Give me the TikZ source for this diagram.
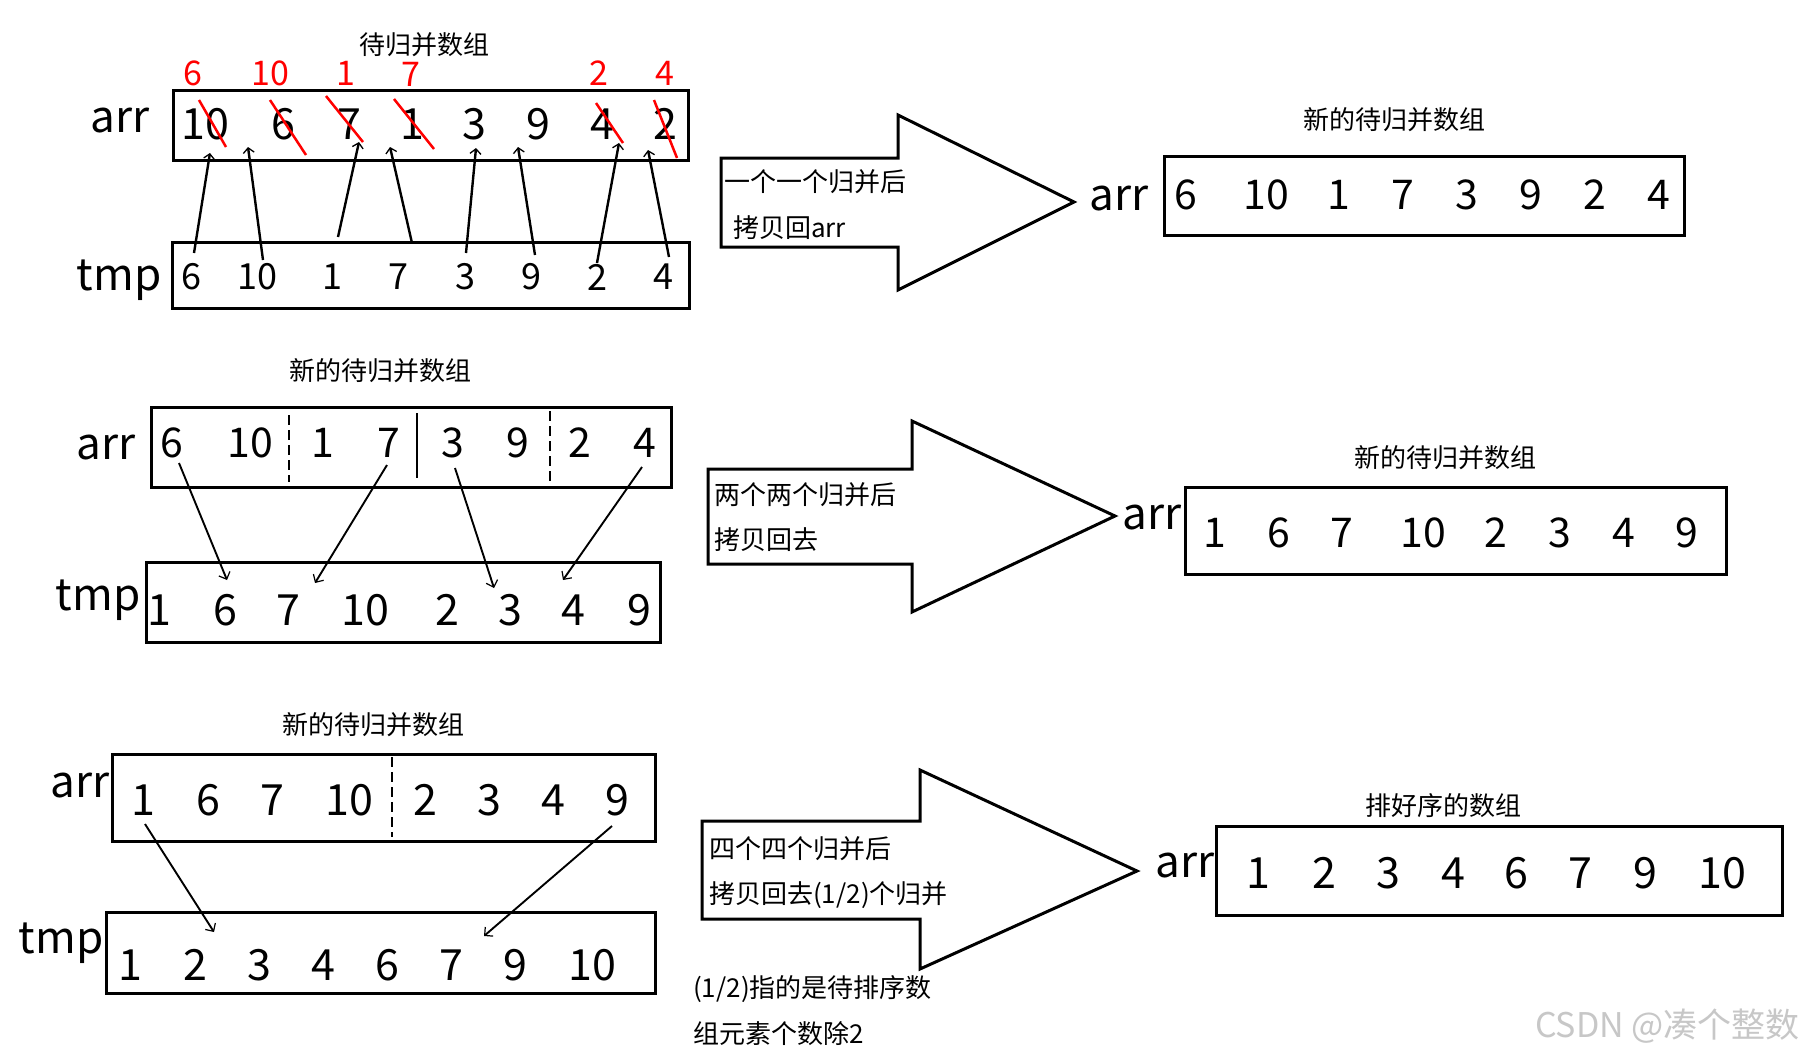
\documentclass[tikz,border=0pt]{standalone}
\usepackage{fontspec}
\setmainfont{Noto Sans CJK SC}
\usetikzlibrary{arrows.meta}
\begin{document}
\begin{tikzpicture}[x=1pt,y=-1pt,
  lbl/.style={inner sep=0pt,font=\fontsize{44}{50}\selectfont},
  dbig/.style={inner sep=0pt,font=\fontsize{43}{48}\selectfont},
  dmid/.style={inner sep=0pt,font=\fontsize{41}{46}\selectfont},
  dsmall/.style={inner sep=0pt,font=\fontsize{36}{40}\selectfont},
  rednum/.style={inner sep=0pt,text=red,font=\fontsize{34}{38}\selectfont},
  title/.style={inner sep=0pt,font=\fontsize{26}{30}\selectfont},
  note/.style={inner sep=0pt,anchor=west,font=\fontsize{26}{30}\selectfont},
  box/.style={draw,line width=3pt},
  bigarrow/.style={draw,line width=3pt,line join=miter},
  sep/.style={line width=2.5pt,dash pattern=on 10pt off 5pt},
  strike/.style={red,line width=2.5pt},
  conn/.style={line width=2.4pt,-{Straight Barb[length=5pt,width=11pt,line width=1.3pt]}},
  conn2/.style={line width=1.9pt,-{Straight Barb[length=6pt,width=12pt,line width=1.2pt]}}]
\useasboundingbox (0,0) rectangle (1804,1058);
\fill[white] (0,0) rectangle (1804,1058);

% ---------------- Row 1 ----------------
\node[title] (c1) at (424,45) {待归并数组};
\foreach \t/\x/\y [count=\i] in {6/193/73,10/270/73,1/346/73,7/411/74,2/599/73,4/665/73}
  \node[rednum] (red\i) at (\x,\y) {\t};
\node[lbl] (arr1) at (120,121) {arr};
\node[box,minimum width=515pt,minimum height=70pt,inner sep=0pt] (box1a) at (430.5,125) {};
\foreach \t/\x [count=\i] in {10/205,6/283,7/349,1/412,3/474,9/538,4/602,2/665}
  \node[dbig] (a1d\i) at (\x,124) {\t};
\node[lbl] (tmp1) at (119,280) {tmp};
\node[box,minimum width=517pt,minimum height=66pt,inner sep=0pt] (box1t) at (430.5,275) {};
\foreach \t/\x [count=\i] in {6/191,10/257,1/332,7/398,3/465,9/531,2/597,4/663}
  \node[dsmall] (t1d\i) at (\x,277) {\t};
% red strikes
\foreach \xa/\ya/\xb/\yb [count=\i] in {199/100/226/147,270/100/306/155,326/96/363/142,394/99/434/149,596/103/623/143,654/100/677/158}{
  \coordinate (sa\i) at (\xa,\ya); \coordinate (sb\i) at (\xb,\yb);
  \draw[strike] (sa\i) -- (sb\i);}
% connectors tmp -> arr
\foreach \xa/\ya/\xb/\yb [count=\i] in {194/253/210/153,263/260/248/147,338/237/359/142,412/243/390/147,466/253/476/148,535/255/518/147,597/263/619/143,669/257/648/150}{
  \coordinate (p1s\i) at (\xa,\ya); \coordinate (p1e\i) at (\xb,\yb);
  \draw[conn] (p1s\i) -- (p1e\i);}

% big arrow 1
\draw[bigarrow] (721,158) -- (898,158) -- (898,115) -- (1074,202) -- (898,290) -- (898,247) -- (721,247) -- cycle;
\node[note] (n1a) at (724,182) {一个一个归并后};
\node[note] (n1b) at (733,228) {拷贝回arr};
\node[lbl] (arr1r) at (1119,199) {arr};
\node[title] (c1r) at (1394,120) {新的待归并数组};
\node[box,minimum width=520pt,minimum height=79pt,inner sep=0pt] (box1r) at (1424,195.5) {};
\foreach \t/\x [count=\i] in {6/1186,10/1266,1/1339,7/1403,3/1467,9/1531,2/1595,4/1659}
  \node[dmid] (r1d\i) at (\x,195) {\t};

% ---------------- Row 2 ----------------
\node[title] (c2) at (380,371) {新的待归并数组};
\node[lbl] (arr2) at (106,448) {arr};
\node[box,minimum width=520pt,minimum height=80pt,inner sep=0pt] (box2a) at (411,447) {};
\foreach \t/\x [count=\i] in {6/172,10/250,1/323,7/389,3/453,9/518,2/580,4/645}
  \node[dmid] (a2d\i) at (\x,443) {\t};
\coordinate (s2at) at (289,415); \coordinate (s2ab) at (289,482);
\coordinate (s2bt) at (417,413); \coordinate (s2bb) at (417,478);
\coordinate (s2ct) at (550,411); \coordinate (s2cb) at (550,482);
\draw[sep] (s2at) -- (s2ab);
\draw[line width=2.5pt] (s2bt) -- (s2bb);
\draw[sep] (s2ct) -- (s2cb);
\node[lbl] (tmp2) at (98,600) {tmp};
\node[box,minimum width=514pt,minimum height=80pt,inner sep=0pt] (box2t) at (403,602) {};
\foreach \t/\x [count=\i] in {1/159,6/225,7/288,10/365,2/447,3/510,4/573,9/639}
  \node[dbig] (t2d\i) at (\x,610) {\t};
\foreach \xa/\ya/\xb/\yb [count=\i] in {179/463/227/580,387/465/315/583,455/468/494/588,642/467/563/580}{
  \coordinate (p2s\i) at (\xa,\ya); \coordinate (p2e\i) at (\xb,\yb);
  \draw[conn2] (p2s\i) -- (p2e\i);}

% big arrow 2
\draw[bigarrow] (708,469) -- (912,469) -- (912,421) -- (1115,516) -- (912,612) -- (912,564) -- (708,564) -- cycle;
\node[note] (n2a) at (714,495) {两个两个归并后};
\node[note] (n2b) at (714,540) {拷贝回去};
\node[lbl] (arr2r) at (1152,518) {arr};
\node[title] (c2r) at (1445,458) {新的待归并数组};
\node[box,minimum width=541pt,minimum height=87pt,inner sep=0pt] (box2r) at (1455.5,530.5) {};
\foreach \t/\x [count=\i] in {1/1215,6/1279,7/1342,10/1423,2/1496,3/1560,4/1624,9/1687}
  \node[dmid] (r2d\i) at (\x,533) {\t};

% ---------------- Row 3 ----------------
\node[title] (c3) at (373,725) {新的待归并数组};
\node[lbl] (arr3) at (80,786) {arr};
\node[box,minimum width=543pt,minimum height=87pt,inner sep=0pt] (box3a) at (383.5,797.5) {};
\foreach \t/\x [count=\i] in {1/143,6/208,7/272,10/349,2/425,3/489,4/553,9/617}
  \node[dbig] (a3d\i) at (\x,800) {\t};
\coordinate (s3t) at (392,757); \coordinate (s3b) at (392,837);
\draw[sep] (s3t) -- (s3b);
\node[lbl] (tmp3) at (61,943) {tmp};
\node[box,minimum width=549pt,minimum height=81pt,inner sep=0pt] (box3t) at (380.5,952.5) {};
\foreach \t/\x [count=\i] in {1/130,2/195,3/259,4/323,6/387,7/451,9/515,10/592}
  \node[dbig] (t3d\i) at (\x,965) {\t};
\foreach \xa/\ya/\xb/\yb [count=\i] in {145/824/214/932,612/826/484/936}{
  \coordinate (p3s\i) at (\xa,\ya); \coordinate (p3e\i) at (\xb,\yb);
  \draw[conn2] (p3s\i) -- (p3e\i);}

% big arrow 3
\draw[bigarrow] (702,821) -- (920,821) -- (920,770) -- (1137,871) -- (920,969) -- (920,919) -- (702,919) -- cycle;
\node[note] (n3a) at (709,849) {四个四个归并后};
\node[note] (n3b) at (709,895) {拷贝回去(1/2)个归并};
\node[note] (n3c) at (693,989) {(1/2)指的是待排序数};
\node[note] (n3d) at (693,1034) {组元素个数除2};
\node[lbl] (arr3r) at (1185,866) {arr};
\node[title] (c3r) at (1443,806) {排好序的数组};
\node[box,minimum width=566pt,minimum height=89pt,inner sep=0pt] (box3r) at (1499,870.5) {};
\foreach \t/\x [count=\i] in {1/1258,2/1324,3/1388,4/1453,6/1516,7/1580,9/1645,10/1722}
  \node[dbig] (r3d\i) at (\x,873) {\t};

% watermark
\node[inner sep=0pt,anchor=east,text=black!22,font=\fontsize{34}{38}\selectfont] (wm) at (1800,1026) {CSDN @凑个整数};
\end{tikzpicture}
\end{document}
